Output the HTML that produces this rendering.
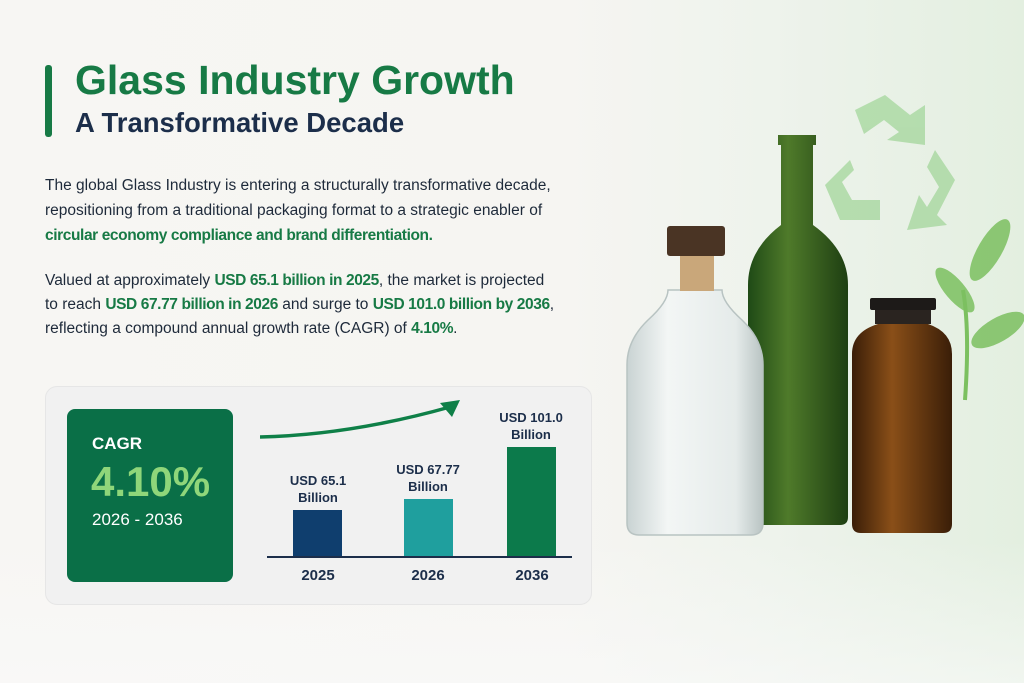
<!DOCTYPE html>
<html><head><meta charset="utf-8">
<style>
*{margin:0;padding:0;box-sizing:border-box}
body{width:1024px;height:683px;overflow:hidden;position:relative;font-family:"Liberation Sans",sans-serif;
background:linear-gradient(90deg,#f7f6f3 0%,#f6f5f2 55%,#eef3ec 75%,#e3efe0 100%);}
.abs{position:absolute;white-space:nowrap}
.p{font-size:15.5px;color:#1e2a3a;left:45px}
.g{color:#177a45 !important;font-weight:bold;letter-spacing:-0.4px}
.card{left:45px;top:386px;width:547px;height:219px;border-radius:12px;background:#f1f1f1;border:1px solid #e6e6e6}
.gbox{left:67px;top:409px;width:166px;height:173px;border-radius:8px;background:#0a6f47}
.bar{position:absolute}
.lbl{font-size:13px;font-weight:bold;color:#1c2e4a;text-align:center;width:100px;line-height:17px}
.yr{font-size:15px;font-weight:bold;color:#1c2e4a;text-align:center;width:60px}
</style></head><body>
<div class="abs" style="left:0;top:540px;width:1024px;height:143px;background:linear-gradient(180deg,rgba(255,255,255,0) 0%,rgba(250,250,250,.6) 100%)"></div>
<svg class="abs" style="left:600px;top:60px" width="424" height="520" viewBox="600 60 424 520">
 <defs>
  <linearGradient id="gr" x1="0" x2="1"><stop offset="0" stop-color="#1f4a16"/><stop offset=".4" stop-color="#4f7a2a"/><stop offset="1" stop-color="#1e3f12"/></linearGradient>
  <linearGradient id="am" x1="0" x2="1"><stop offset="0" stop-color="#3a1e08"/><stop offset=".4" stop-color="#8a4f18"/><stop offset="1" stop-color="#3a1e08"/></linearGradient>
  <linearGradient id="cl" x1="0" x2="1"><stop offset="0" stop-color="#c9d3d3"/><stop offset=".3" stop-color="#f3f6f5"/><stop offset=".8" stop-color="#e5ebea"/><stop offset="1" stop-color="#b9c4c3"/></linearGradient>
 </defs>
 <g fill="#a8d8a0" opacity=".8">
  <path d="M855 110 l30 -15 l25 20 l15 -10 l0 40 l-38 -5 l12 -8 l-15 -12 l-20 14z"/>
  <path d="M935 150 l20 30 l-18 35 l10 10 l-40 5 l12 -35 l8 12 l12 -20 l-12 -20z"/>
  <path d="M850 160 l-25 25 l15 35 l40 0 l0 -20 l-28 0 l-10 -18 l12 -12z"/>
 </g>
 <g fill="#7cc060" opacity=".85">
  <ellipse cx="990" cy="250" rx="12" ry="35" transform="rotate(30 990 250)"/>
  <ellipse cx="998" cy="330" rx="12" ry="30" transform="rotate(60 998 330)"/>
  <ellipse cx="955" cy="290" rx="10" ry="28" transform="rotate(-40 955 290)"/>
 </g>
 <path d="M963 290 Q970 330 965 400" stroke="#7cc060" stroke-width="4" fill="none"/>
 <path d="M778 135 h38 v10 h-3 v80 q35 25 35 60 v232 q0 8 -8 8 h-84 q-8 0 -8 -8 v-232 q0 -35 33 -60 v-80 h-3z" fill="url(#gr)"/>
 <path d="M668 290 q0 12 -20 30 q-21 20 -21 45 v158 q0 12 12 12 h112 q12 0 12 -12 v-158 q0 -25 -21 -45 q-20 -18 -20 -30z" fill="url(#cl)" stroke="#b8c3c2" stroke-width="1.5"/>
 <rect x="680" y="255" width="34" height="36" fill="#c9a77a"/>
 <rect x="667" y="226" width="58" height="30" rx="3" fill="#4a3424"/>
 <rect x="870" y="298" width="66" height="12" rx="2" fill="#1d1a18"/>
 <rect x="875" y="310" width="56" height="14" fill="#2a2420"/>
 <path d="M878 324 h50 q24 8 24 30 v170 q0 9 -9 9 h-82 q-9 0 -9 -9 v-170 q0 -22 26 -30z" fill="url(#am)"/>
</svg>
<div class="abs" style="left:45px;top:65px;width:7px;height:72px;border-radius:3px;background:#177a45"></div>
<div class="abs" style="left:75px;top:57px;font-size:41px;font-weight:bold;color:#177a45">Glass Industry Growth</div>
<div class="abs" style="left:75px;top:107px;font-size:27.5px;font-weight:bold;color:#1c2e4a">A Transformative Decade</div>
<div class="abs p" style="top:177px">The global Glass Industry is entering a structurally transformative decade,</div>
<div class="abs p" style="top:202px">repositioning from a traditional packaging format to a strategic enabler of</div>
<div class="abs p g" style="top:227px">circular economy compliance and brand differentiation.</div>
<div class="abs p" style="top:272px">Valued at approximately <span class="g">USD 65.1 billion in 2025</span>, the market is projected</div>
<div class="abs p" style="top:296px">to reach <span class="g">USD 67.77 billion in 2026</span> and surge to <span class="g">USD 101.0 billion by 2036</span>,</div>
<div class="abs p" style="top:320px">reflecting a compound annual growth rate (CAGR) of <span class="g">4.10%</span>.</div>
<div class="abs card"></div>
<div class="abs gbox"></div>
<div class="abs" style="left:92px;top:434px;font-size:17px;font-weight:bold;color:#fff">CAGR</div>
<div class="abs" style="left:91px;top:458px;font-size:42px;font-weight:bold;color:#8fd67a">4.10%</div>
<div class="abs" style="left:92px;top:510px;font-size:17px;color:#fff">2026 - 2036</div>
<svg class="abs" style="left:260px;top:395px" width="200" height="50"><path d="M0 42 Q90 40 190 12" stroke="#0f8048" stroke-width="3.5" fill="none"/><path d="M200 5 L180 8 L192 22z" fill="#0f8048"/></svg>
<div class="bar" style="left:293px;top:510px;width:49px;height:47px;background:#0f3e6e"></div>
<div class="bar" style="left:404px;top:499px;width:49px;height:58px;background:#1f9f9e"></div>
<div class="bar" style="left:507px;top:447px;width:49px;height:110px;background:#0c7a4b"></div>
<div class="abs" style="left:267px;top:556px;width:305px;height:2px;background:#1c2e4a"></div>
<div class="abs lbl" style="left:268px;top:472px">USD 65.1<br>Billion</div>
<div class="abs lbl" style="left:378px;top:461px">USD 67.77<br>Billion</div>
<div class="abs lbl" style="left:481px;top:409px">USD 101.0<br>Billion</div>
<div class="abs yr" style="left:288px;top:567px">2025</div>
<div class="abs yr" style="left:398px;top:567px">2026</div>
<div class="abs yr" style="left:502px;top:567px">2036</div>
</body></html>
